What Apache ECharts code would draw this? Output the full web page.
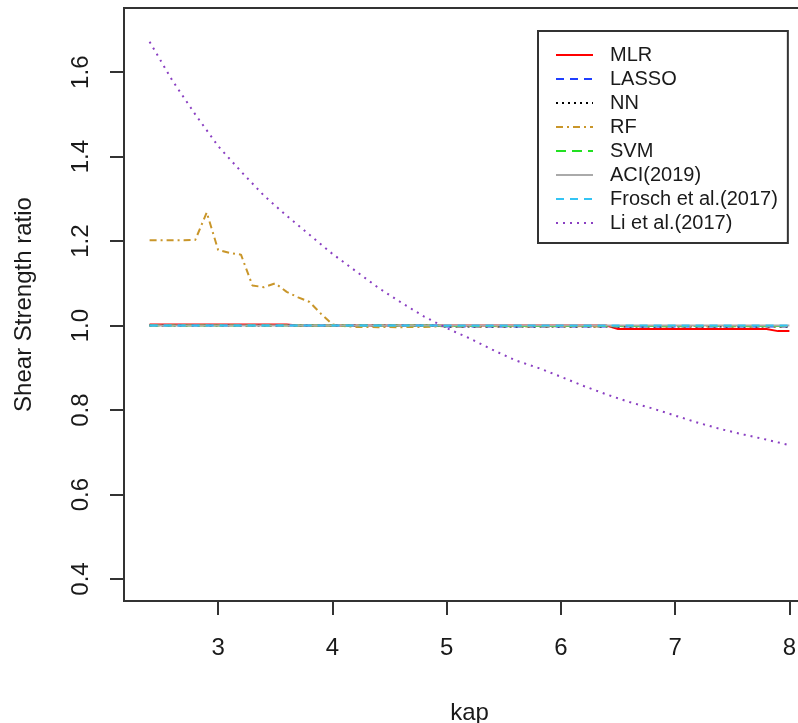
<!DOCTYPE html>
<html>
<head>
<meta charset="utf-8">
<script src="https://cdn.jsdelivr.net/npm/echarts@6/dist/echarts.min.js"></script>
<style>
html,body{margin:0;padding:0;background:#fff;overflow:hidden;}
#chart{width:798px;height:723px;}
</style>
</head>
<body>
<div id="chart"></div>
<script>
// ---- data ----
const kap = [2.4,2.5,2.6,2.7,2.8,2.9,3.0,3.1,3.2,3.3,3.4,3.5,3.6,3.7,3.8,3.9,4.0,4.1,4.2,4.3,4.4,4.5,4.6,4.7,4.8,4.9,
             5.0,5.1,5.2,5.3,5.4,5.5,5.6,5.7,5.8,5.9,6.0,6.1,6.2,6.3,6.4,6.5,6.6,6.7,6.8,6.9,7.0,7.1,7.2,7.3,7.4,7.5,7.6,7.7,7.8,7.9,8.0];

const mlr = [1.0024,1.0024,1.0024,1.0024,1.0024,1.0024,1.0024,1.0024,1.0024,1.0024,1.0024,1.0024,1.0024,
             1.0,1.0,1.0,1.0,1.0,1.0,1.0,1.0,1.0,1.0,1.0,1.0,1.0,1.0,1.0,1.0,1.0,1.0,1.0,1.0,1.0,1.0,1.0,1.0,1.0,1.0,1.0,1.0,
             0.992,0.992,0.992,0.992,0.992,0.992,0.992,0.992,0.992,0.992,0.992,0.992,0.992,0.992,0.987,0.987];

const lasso = [1.0,1.0,1.0,1.0,1.0,1.0,1.0,1.0,1.0,1.0,1.0,1.0,1.0,1.0,1.0,1.0,1.0,1.0,1.0,1.0,1.0,1.0,1.0,1.0,1.0,1.0,
               0.998,0.998,0.998,0.998,0.998,0.998,0.998,0.998,0.998,0.998,0.998,0.998,0.998,0.998,0.998,0.998,0.998,0.998,0.998,0.998,0.998,0.998,0.998,0.998,0.998,0.998,0.998,0.998,0.998,0.998,0.998];

const nn = [1.0,1.0,1.0,1.0,1.0,1.0,1.0,1.0,1.0,1.0,1.0,1.0,1.0,1.0,1.0,1.0,1.0,1.0,1.0,1.0,1.0,1.0,1.0,1.0,1.0,1.0,
            0.998,0.998,0.998,0.998,0.998,0.998,0.998,0.998,0.998,0.998,0.998,0.998,0.998,0.998,0.998,0.998,0.998,0.998,0.998,0.998,0.998,0.998,0.998,0.998,0.998,0.998,0.998,0.998,0.998,0.998,0.998];

const rf = [1.202,1.202,1.202,1.202,1.203,1.268,1.179,1.172,1.168,1.095,1.091,1.100,1.080,1.067,1.056,1.028,1.003,0.999,
            0.997,0.997,0.996,0.997,0.996,0.997,0.997,0.998,
            0.999,0.998,0.999,0.998,0.999,0.998,0.999,0.998,0.999,0.998,0.999,0.998,0.999,0.998,0.999,0.998,0.999,0.998,0.999,0.998,0.999,0.998,0.999,0.998,0.999,0.998,0.999,0.998,0.999,0.998,0.999];

const svm = [1.0,1.0,1.0,1.0,1.0,1.0,1.0,1.0,1.0,1.0,1.0,1.0,1.0,1.0,1.0,1.0,1.0,1.0,1.0,1.0,1.0,1.0,1.0,1.0,1.0,1.0,
             0.999,0.999,0.999,0.999,0.999,0.999,0.999,0.999,0.999,0.999,0.999,0.999,0.999,0.999,0.999,0.999,0.999,0.999,0.999,0.999,0.999,0.999,0.999,0.999,0.999,0.999,0.999,0.999,0.999,0.999,0.999];

const aci = [1.0,1.0,1.0,1.0,1.0,1.0,1.0,1.0,1.0,1.0,1.0,1.0,1.0,1.0,1.0,1.0,1.0,1.0,1.0,1.0,1.0,1.0,1.0,1.0,1.0,1.0,
             1.0,1.0,1.0,1.0,1.0,1.0,1.0,1.0,1.0,1.0,1.0,1.0,1.0,1.0,1.0,1.0,1.0,1.0,1.0,1.0,1.0,1.0,1.0,1.0,1.0,1.0,1.0,1.0,1.0,1.0,1.0];

const frosch = [1.0,1.0,1.0,1.0,1.0,1.0,1.0,1.0,1.0,1.0,1.0,1.0,1.0,1.0,1.0,1.0,1.0,1.0,1.0,1.0,1.0,1.0,1.0,1.0,1.0,1.0,
                1.0,1.0,1.0,1.0,1.0,1.0,1.0,1.0,1.0,1.0,1.0,1.0,1.0,1.0,1.0,1.0,1.0,1.0,1.0,1.0,1.0,1.0,1.0,1.0,1.0,1.0,1.0,1.0,1.0,1.0,1.0];

const liKap = [2.4,2.6,2.8,3.0,3.2,3.4,3.6,3.8,4.0,4.2,4.4,4.6,4.8,5.0,5.2,5.4,5.6,5.8,6.0,6.2,6.4,6.6,6.8,7.0,7.2,7.4,7.6,7.8,8.0];
const li = [1.672,1.580,1.500,1.425,1.365,1.308,1.260,1.215,1.170,1.130,1.090,1.055,1.022,0.994,0.970,0.943,0.918,0.900,0.879,0.857,0.837,0.819,0.804,0.787,0.770,0.755,0.742,0.730,0.717];

const xTicks = [3,4,5,6,7,8];
const yTicks = [0.4,0.6,0.8,1.0,1.2,1.4,1.6];

const seriesNames = ['MLR','LASSO','NN','RF','SVM','ACI(2019)','Frosch et al.(2017)','Li et al.(2017)'];
const seriesColors = ['#FF0000','#1F3FFF','#000000','#C9962A','#22E022','#AAAAAA','#33C4F4','#8A3FC2'];
const seriesDash = ['solid',[8,6],[2,4],[7,4,2,4],[10,6],'solid',[8,6],[2,5]];

// ---- chart ----
const FONT = '"Liberation Sans", Arial, sans-serif';
const pairs = (xs, ys) => xs.map((x, i) => [x, ys[i]]);
const seriesData = [
  pairs(kap, mlr), pairs(kap, lasso), pairs(kap, nn), pairs(kap, rf),
  pairs(kap, svm), pairs(kap, aci), pairs(kap, frosch), pairs(liKap, li)
];

const chart = echarts.init(document.getElementById('chart'), null, {renderer: 'canvas'});
chart.setOption({
  animation: false,
  backgroundColor: '#ffffff',
  grid: {left: 124, top: 8, width: 691, height: 593, show: true, borderColor: '#333', borderWidth: 2,
         backgroundColor: 'transparent', containLabel: false, outerBoundsMode: 'none'},
  xAxis: {
    type: 'value', min: 2.176, max: 8.224,
    name: 'kap', nameLocation: 'middle', nameGap: 100,
    nameTextStyle: {fontFamily: FONT, fontSize: 24, color: '#1a1a1a'},
    axisLine: {show: true, onZero: false, lineStyle: {color: '#333', width: 2}},
    axisTick: {show: true, length: 14, customValues: xTicks, lineStyle: {color: '#333', width: 2}},
    axisLabel: {show: true, customValues: xTicks, margin: 35, fontFamily: FONT, fontSize: 24, color: '#1a1a1a',
                formatter: v => String(v)},
    splitLine: {show: false}
  },
  yAxis: {
    type: 'value', min: 0.348, max: 1.752,
    name: 'Shear Strength ratio', nameLocation: 'middle', nameGap: 88, nameRotate: 90,
    nameTextStyle: {fontFamily: FONT, fontSize: 24, color: '#1a1a1a'},
    axisLine: {show: true, onZero: false, lineStyle: {color: '#333', width: 2}},
    axisTick: {show: true, length: 14, customValues: yTicks, lineStyle: {color: '#333', width: 2}},
    axisLabel: {show: true, customValues: yTicks, rotate: 90, margin: 31, fontFamily: FONT, fontSize: 24, color: '#1a1a1a',
                formatter: v => v.toFixed(1)},
    splitLine: {show: false}
  },
  legend: {
    orient: 'vertical', left: 538, top: 31,
    data: seriesNames,
    itemWidth: 37, itemHeight: 14, itemGap: 4,
    padding: [14, 10, 10, 17],
    borderColor: '#333', borderWidth: 2, backgroundColor: '#fff',
    itemStyle: {opacity: 0},
    textStyle: {fontFamily: FONT, fontSize: 20, color: '#1a1a1a', padding: [0, 0, 0, 12]},
    selectedMode: false
  },
  series: seriesNames.map((name, i) => ({
    name: name,
    type: 'line',
    data: seriesData[i],
    symbol: 'none',
    showSymbol: false,
    lineStyle: {color: seriesColors[i], width: 2, type: seriesDash[i]},
    itemStyle: {color: seriesColors[i]},
    clip: true
  }))
});
</script>
</body>
</html>
